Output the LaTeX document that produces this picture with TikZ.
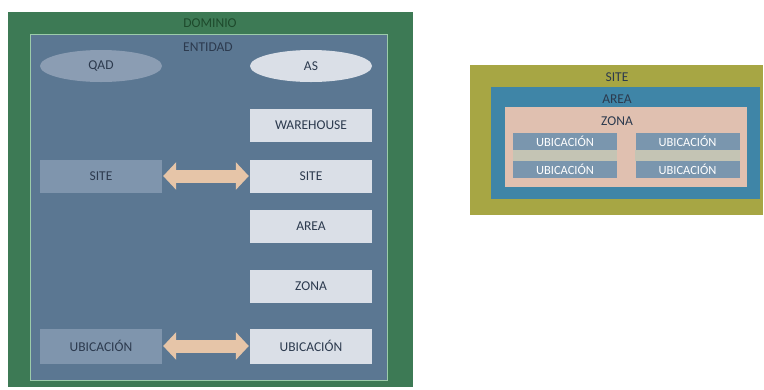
\documentclass[tikz,border=0pt]{standalone}
\usepackage{fontspec}
\setmainfont{Carlito}
\usetikzlibrary{arrows.meta,shapes.geometric}
\definecolor{domgreen}{HTML}{3D7A55}
\definecolor{domtext}{HTML}{1E4A2C}
\definecolor{mint}{HTML}{9CCBAA}
\definecolor{slate}{HTML}{5B7792}
\definecolor{qadfill}{HTML}{8B9DB3}
\definecolor{lightbox}{HTML}{DADFE7}
\definecolor{midbox}{HTML}{7F95AD}
\definecolor{peach}{HTML}{E6C5A8}
\definecolor{darktext}{HTML}{2C3A4E}
\definecolor{olive}{HTML}{A7A644}
\definecolor{areablue}{HTML}{3F85A7}
\definecolor{pinkzone}{HTML}{E0C0B0}
\definecolor{ubicbox}{HTML}{7A96AE}
\definecolor{graystrip}{HTML}{C4C4B4}
\tikzset{
  lbl/.style={font=\fontsize{13.5}{16}\selectfont, text=darktext, inner sep=0pt},
  lightrect/.style={rectangle, fill=lightbox, minimum width=122pt, minimum height=33pt, inner sep=0pt, lbl},
  midrect/.style={rectangle, fill=midbox, minimum width=122pt, minimum height=33pt, inner sep=0pt, lbl},
  ell/.style={ellipse, minimum width=122pt, minimum height=32pt, inner sep=0pt, lbl},
  blockarrow/.style={draw=peach, line width=13pt, {Triangle[length=13pt,width=27pt]}-{Triangle[length=13pt,width=27pt]}, shorten <=1pt, shorten >=1pt},
  smallbox/.style={rectangle, fill=ubicbox, minimum width=104pt, minimum height=17pt, inner sep=0pt, font=\fontsize{12.5}{14}\selectfont, text=white}
}
\begin{document}
\begin{tikzpicture}[x=1pt,y=-1pt]
\useasboundingbox (0,0) rectangle (764,389);
\fill[white] (0,0) rectangle (764,389);
% DOMINIO
\fill[domgreen] (8,12) rectangle (413,387);
\node[lbl, text=domtext] (dominio) at (210,23) {DOMINIO};
% ENTIDAD
\filldraw[fill=slate, draw=mint, line width=1pt] (30,34) rectangle (387,380);
\node[lbl, text=darktext] (entidad) at (208,47) {ENTIDAD};
% ellipses
\node[ell, fill=qadfill] (qad) at (101,66) {QAD};
\node[ell, fill=lightbox] (as) at (311,66) {AS};
% right column
\node[lightrect] (wh) at (311,125) {WAREHOUSE};
\node[lightrect] (siteR) at (311,176) {SITE};
\node[lightrect] (areaR) at (311,226) {AREA};
\node[lightrect] (zonaR) at (311,286) {ZONA};
\node[lightrect, minimum height=35pt] (ubicR) at (311,346) {UBICACIÓN};
% left column
\node[midrect] (siteL) at (101,176) {SITE};
\node[midrect, minimum height=35pt] (ubicL) at (101,346) {UBICACIÓN};
% arrows
\draw[blockarrow] (siteL.east) -- (siteR.west);
\draw[blockarrow] (ubicL.east) -- (ubicR.west);
% right diagram
\fill[olive] (470,65) rectangle (763,215);
\node[lbl, text=darktext] (siteT) at (617,77) {SITE};
\fill[areablue] (491,87) rectangle (760,199);
\node[lbl, text=darktext] (areaT) at (617,99) {AREA};
\fill[pinkzone] (505,107) rectangle (747,187);
\node[lbl, text=darktext] (zonaT) at (617,121) {ZONA};
\fill[graystrip] (513,150) rectangle (617,161);
\fill[graystrip] (635,150) rectangle (740,161);
\node[smallbox] (u1) at (565,141.5) {UBICACIÓN};
\node[smallbox] (u2) at (565,169) {UBICACIÓN};
\node[smallbox] (u3) at (687.5,141.5) {UBICACIÓN};
\node[smallbox] (u4) at (687.5,169) {UBICACIÓN};
\end{tikzpicture}
\end{document}
